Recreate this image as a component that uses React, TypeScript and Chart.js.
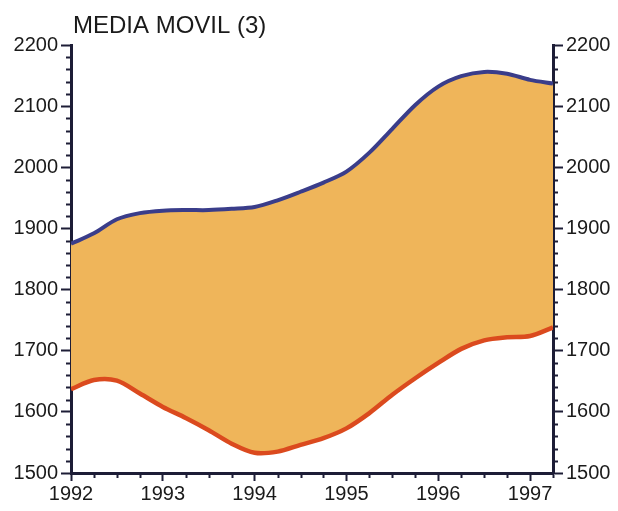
import React, { useEffect, useRef } from "react";
import { Chart, registerables } from "chart.js";

Chart.register(...registerables);

const chartTitle = "MEDIA MOVIL (3)";

const quarters = [
  1992, 1992.25, 1992.5, 1992.75,
  1993, 1993.25, 1993.5, 1993.75,
  1994, 1994.25, 1994.5, 1994.75,
  1995, 1995.25, 1995.5, 1995.75,
  1996, 1996.25, 1996.5, 1996.75,
  1997, 1997.25,
];

const upperSeries = [
  1875, 1892, 1915, 1925,
  1929, 1930, 1930, 1932,
  1935, 1946, 1960, 1975,
  1993, 2024, 2063, 2102,
  2132, 2149, 2156, 2153,
  2143, 2137,
];

const lowerSeries = [
  1637, 1652, 1651, 1630,
  1608, 1590, 1570, 1548,
  1533, 1535, 1546, 1557,
  1573, 1598, 1628, 1655,
  1680, 1703, 1717, 1722,
  1724, 1738,
];

const yTickValues = [1500, 1600, 1700, 1800, 1900, 2000, 2100, 2200];
const xTickValues = [1992, 1993, 1994, 1995, 1996, 1997];

const FONT = "'Liberation Sans', Arial, Helvetica, sans-serif";
const AXIS_COLOR = "#1d1d36";
const TEXT_COLOR = "#1a1a1a";

const decorPlugin = {
  id: "decor",
  afterDraw(chart: any) {
    const ctx = chart.ctx;
    const area = chart.chartArea;
    const y = chart.scales.y;
    const x = chart.scales.x;
    ctx.save();
    ctx.strokeStyle = AXIS_COLOR;
    ctx.lineWidth = 2;
    // minor y ticks every 20
    for (let v = 1500; v <= 2200; v += 20) {
      if (v % 100 === 0) continue;
      const py = Math.round(y.getPixelForValue(v)) + 0.5;
      ctx.beginPath();
      ctx.moveTo(area.left, py);
      ctx.lineTo(area.left - 5, py);
      ctx.stroke();
      ctx.beginPath();
      ctx.moveTo(area.right, py);
      ctx.lineTo(area.right + 5, py);
      ctx.stroke();
    }
    // minor x ticks every quarter
    for (const q of quarters) {
      if (Number.isInteger(q)) continue;
      const px = Math.round(x.getPixelForValue(q)) + 0.5;
      ctx.beginPath();
      ctx.moveTo(px, area.bottom);
      ctx.lineTo(px, area.bottom + 5);
      ctx.stroke();
    }
    // title
    ctx.fillStyle = TEXT_COLOR;
    ctx.font = `24px ${FONT}`;
    ctx.textBaseline = "middle";
    ctx.textAlign = "left";
    ctx.fillText(chartTitle, 73, 26);
    ctx.restore();
  },
};

export default function App() {
  const canvasRef = useRef<HTMLCanvasElement | null>(null);

  useEffect(() => {
    document.body.style.margin = "0";
    const canvas = canvasRef.current;
    if (!canvas) return;

    const tickFont = { family: FONT, size: 20 };

    const chart = new Chart(canvas, {
      type: "line",
      data: {
        datasets: [
          {
            label: "upper",
            data: quarters.map((q, i) => ({ x: q, y: upperSeries[i] })),
            borderColor: "#3a3d8a",
            backgroundColor: "#efb55a",
            borderWidth: 4,
            pointRadius: 0,
            tension: 0.3,
            fill: 1,
            yAxisID: "y",
          },
          {
            label: "lower",
            data: quarters.map((q, i) => ({ x: q, y: lowerSeries[i] })),
            borderColor: "#db4a1e",
            borderWidth: 4.5,
            pointRadius: 0,
            tension: 0.3,
            fill: false,
            yAxisID: "y",
          },
        ],
      },
      plugins: [decorPlugin],
      options: {
        animation: false,
        responsive: false,
        devicePixelRatio: 1,
        layout: { padding: { top: 45, left: 0, right: 0, bottom: 0 } },
        plugins: {
          legend: { display: false },
          tooltip: { enabled: false },
          title: { display: false },
          filler: { drawTime: "beforeDatasetsDraw" },
        },
        scales: {
          x: {
            type: "linear",
            min: 1992,
            max: 1997.25,
            afterBuildTicks: (scale: any) => {
              scale.ticks = xTickValues.map((v) => ({ value: v }));
            },
            afterFit: (scale: any) => {
              scale.height = 38;
            },
            ticks: {
              font: tickFont,
              color: TEXT_COLOR,
              padding: 1,
              maxRotation: 0,
              autoSkip: false,
              includeBounds: false,
              callback: (v: any) => String(v),
            },
            grid: {
              drawOnChartArea: false,
              drawTicks: true,
              tickLength: 8,
              tickWidth: 2,
              tickColor: AXIS_COLOR,
            },
            border: { display: true, color: AXIS_COLOR, width: 3 },
          },
          y: {
            type: "linear",
            position: "left",
            min: 1500,
            max: 2200,
            afterBuildTicks: (scale: any) => {
              scale.ticks = yTickValues.map((v) => ({ value: v }));
            },
            afterFit: (scale: any) => {
              scale.width = 71;
            },
            ticks: {
              font: tickFont,
              color: TEXT_COLOR,
              padding: 3,
              autoSkip: false,
              includeBounds: false,
              callback: (v: any) => String(v),
            },
            grid: {
              drawOnChartArea: false,
              drawTicks: true,
              tickLength: 10,
              tickWidth: 2,
              tickColor: AXIS_COLOR,
            },
            border: { display: true, color: AXIS_COLOR, width: 3 },
          },
          y2: {
            type: "linear",
            position: "right",
            min: 1500,
            max: 2200,
            afterBuildTicks: (scale: any) => {
              scale.ticks = yTickValues.map((v) => ({ value: v }));
            },
            afterFit: (scale: any) => {
              scale.width = 65;
            },
            ticks: {
              font: tickFont,
              color: TEXT_COLOR,
              padding: 3,
              autoSkip: false,
              includeBounds: false,
              callback: (v: any) => String(v),
            },
            grid: {
              drawOnChartArea: false,
              drawTicks: true,
              tickLength: 10,
              tickWidth: 2,
              tickColor: AXIS_COLOR,
            },
            border: { display: true, color: AXIS_COLOR, width: 3 },
          },
        },
      },
    } as any);

    return () => {
      chart.destroy();
    };
  }, []);

  return (
    <div style={{ position: "absolute", left: 0, top: 0, width: 618, height: 511, background: "#ffffff" }}>
      <canvas ref={canvasRef} width={618} height={511} style={{ display: "block", width: 618, height: 511 }} />
    </div>
  );
}
